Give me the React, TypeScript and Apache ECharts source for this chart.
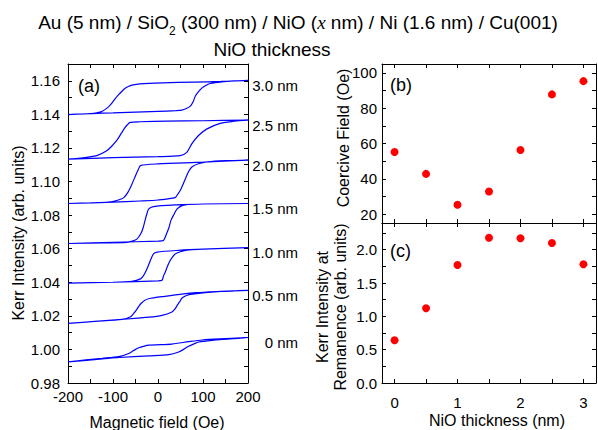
import React, { useEffect, useRef } from "react";
import * as echarts from "echarts";

// ---------- Panel (a): hysteresis loops, [field (Oe), Kerr intensity] ----------
const loop00Down = [[200, 1.0071], [150, 1.0064], [98, 1.0056], [68, 1.0046], [31, 1.0032], [-21, 1.0026], [-33, 1.0018], [-43, 1.001], [-55, 0.9992], [-65, 0.9976], [-87, 0.9957], [-124, 0.9947], [-160, 0.9938], [-200, 0.9926]];
const loop00Up = [[-200, 0.9926], [-124, 0.9943], [-87, 0.9952], [-20, 0.9962], [24, 0.9969], [46, 0.9985], [58, 1.0002], [68, 1.0019], [80, 1.0033], [90, 1.0044], [120, 1.0054], [160, 1.0062], [200, 1.0071]];

const loop05Down = [[200, 1.0352], [140, 1.0346], [83, 1.0338], [9, 1.0314], [-21, 1.0302], [-30, 1.0292], [-36, 1.0278], [-42, 1.026], [-47, 1.0239], [-54, 1.0215], [-61, 1.0195], [-80, 1.0179], [-140, 1.0167], [-200, 1.0155]];
const loop05Up = [[-200, 1.0155], [-140, 1.0167], [-80, 1.0179], [-20, 1.0192], [9, 1.0203], [31, 1.0223], [37, 1.0238], [42, 1.0259], [48, 1.0283], [53, 1.0305], [62, 1.032], [72, 1.0328], [140, 1.0345], [200, 1.0352]];

const loop10Down = [[200, 1.0606], [100, 1.0597], [46, 1.059], [-2, 1.058], [-10, 1.0569], [-17, 1.053], [-22, 1.0495], [-28, 1.046], [-33, 1.0437], [-39, 1.042], [-58, 1.0406], [-100, 1.04], [-200, 1.0395]];
const loop10Up = [[-200, 1.0395], [-100, 1.04], [0, 1.0408], [9, 1.0412], [12, 1.0436], [16, 1.046], [21, 1.0495], [27, 1.053], [33, 1.0553], [38, 1.0569], [50, 1.0582], [61, 1.059], [100, 1.0597], [200, 1.0606]];

const loop15Down = [[200, 1.0869], [100, 1.0866], [41, 1.0861], [-10, 1.0851], [-21, 1.0836], [-25, 1.0805], [-29, 1.0766], [-33, 1.0725], [-38, 1.069], [-47, 1.0657], [-58, 1.0645], [-70, 1.0637], [-120, 1.0634], [-200, 1.0631]];
const loop15Up = [[-200, 1.0631], [-100, 1.0638], [0, 1.0645], [12, 1.0649], [19, 1.0689], [24, 1.0723], [29, 1.077], [35, 1.0802], [42, 1.0835], [50, 1.0852], [60, 1.0861], [100, 1.0866], [200, 1.0869]];

const loop20Down = [[200, 1.1128], [100, 1.1115], [0, 1.1105], [-39, 1.1095], [-44, 1.107], [-50, 1.1035], [-58, 1.0984], [-66, 1.094], [-76, 1.0904], [-92, 1.0887], [-110, 1.0878], [-150, 1.0873], [-200, 1.0869]];
const loop20Up = [[-200, 1.0869], [-100, 1.0877], [-40, 1.0884], [0, 1.089], [38, 1.0904], [44, 1.0925], [50, 1.095], [56, 1.0985], [62, 1.1024], [68, 1.106], [76, 1.1088], [90, 1.1106], [110, 1.1117], [150, 1.1124], [200, 1.1128]];

const loop25Down = [[200, 1.1366], [100, 1.1362], [20, 1.136], [-40, 1.1356], [-62, 1.1352], [-68, 1.1338], [-73, 1.1322], [-82, 1.1285], [-92, 1.1243], [-103, 1.121], [-114, 1.1183], [-136, 1.1154], [-173, 1.1139], [-200, 1.1134]];
const loop25Up = [[-200, 1.1134], [-100, 1.1142], [0, 1.1148], [49, 1.1154], [64, 1.1174], [75, 1.1224], [90, 1.1274], [108, 1.1312], [138, 1.1346], [170, 1.136], [200, 1.1366]];

const loop30Down = [[200, 1.1602], [140, 1.1596], [80, 1.1592], [10, 1.1588], [-40, 1.1582], [-58, 1.1574], [-66, 1.1566], [-73, 1.1556], [-80, 1.1538], [-87, 1.1519], [-95, 1.1494], [-102, 1.1469], [-112, 1.144], [-124, 1.1419], [-136, 1.1409], [-150, 1.1404], [-200, 1.1399]];
const loop30Up = [[-200, 1.1399], [-147, 1.1405], [-100, 1.1409], [0, 1.1418], [40, 1.1422], [53, 1.1425], [63, 1.1435], [72, 1.1449], [78, 1.1475], [83, 1.1509], [90, 1.1535], [98, 1.1558], [107, 1.1573], [116, 1.1584], [142, 1.1594], [170, 1.1599], [200, 1.1602]];

const loopLabels = ["0 nm", "0.5 nm", "1.0 nm", "1.5 nm", "2.0 nm", "2.5 nm", "3.0 nm"];

const fieldTickValues = [-200, -150, -100, -50, 0, 50, 100, 150, 200];
const fieldLabelValues = [-200, -100, 0, 100, 200];
const kerrTickValues = [0.98, 0.99, 1.0, 1.01, 1.02, 1.03, 1.04, 1.05, 1.06, 1.07, 1.08, 1.09, 1.1, 1.11, 1.12, 1.13, 1.14, 1.15, 1.16];
const kerrLabelValues = [0.98, 1.0, 1.02, 1.04, 1.06, 1.08, 1.1, 1.12, 1.14, 1.16];

// ---------- Panels (b) and (c) ----------
const thicknessNm = [0, 0.5, 1, 1.5, 2, 2.5, 3];
const coerciveFieldOe = [55.2, 42.8, 25.3, 32.8, 56.3, 87.8, 95.3];
const remanenceKerr = [0.64, 1.12, 1.77, 2.18, 2.17, 2.1, 1.78];

const thicknessTickValues = [0, 0.5, 1, 1.5, 2, 2.5, 3];
const thicknessLabelValues = [0, 1, 2, 3];
const coerciveTickValues = [20, 30, 40, 50, 60, 70, 80, 90, 100];
const coerciveLabelValues = [20, 40, 60, 80, 100];
const remanenceTickValues = [0, 0.25, 0.5, 0.75, 1, 1.25, 1.5, 1.75, 2, 2.25];
const remanenceLabelValues = [0, 0.5, 1, 1.5, 2];

const FONT = "'Liberation Sans', Arial, Helvetica, sans-serif";
const BLACK = "#000";

function axis(
  gridIndex: number,
  position: string,
  min: number,
  max: number,
  ticks: number[],
  labels: number[] | null,
  formatter: (v: number) => string,
  margin: number
) {
  return {
    type: "value",
    gridIndex,
    position,
    min,
    max,
    axisLine: { show: true, onZero: false, lineStyle: { color: BLACK, width: 1 } },
    axisTick: { show: true, inside: true, length: 4, customValues: ticks, lineStyle: { color: BLACK, width: 1 } },
    minorTick: { show: false },
    splitLine: { show: false },
    axisLabel: labels
      ? { show: true, customValues: labels, formatter, margin, fontSize: 15, fontFamily: FONT, color: BLACK }
      : { show: false },
  };
}

const fmt0 = (v: number) => String(Math.round(v));
const fmt1 = (v: number) => v.toFixed(1);
const fmt2 = (v: number) => v.toFixed(2);

const loops = [
  [loop00Down, loop00Up],
  [loop05Down, loop05Up],
  [loop10Down, loop10Up],
  [loop15Down, loop15Up],
  [loop20Down, loop20Up],
  [loop25Down, loop25Up],
  [loop30Down, loop30Up],
];

function baseOption() {
  const loopSeries = loops.map(([down, up], i) => ({
    type: "line",
    name: loopLabels[i],
    xAxisIndex: 0,
    yAxisIndex: 0,
    data: [...down, ...up],
    showSymbol: false,
    symbol: "none",
    smooth: 0.25,
    lineStyle: { color: "#0000ff", width: 1.2 },
    z: 3,
  }));
  const dot = { color: "#ff0000", opacity: 1 };
  return {
    animation: false,
    backgroundColor: "#fff",
    grid: [
      { left: 68, top: 64, width: 180, height: 319 },
      { left: 382, top: 64, width: 214, height: 159 },
      { left: 382, top: 223, width: 214, height: 160 },
    ],
    xAxis: [
      axis(0, "bottom", -200, 200, fieldTickValues, fieldLabelValues, fmt0, 6),
      axis(0, "top", -200, 200, fieldTickValues, null, fmt0, 6),
      axis(1, "bottom", -0.2, 3.2, thicknessTickValues, null, fmt0, 6),
      axis(1, "top", -0.2, 3.2, thicknessTickValues, null, fmt0, 6),
      axis(2, "bottom", -0.2, 3.2, thicknessTickValues, thicknessLabelValues, fmt0, 12),
      axis(2, "top", -0.2, 3.2, thicknessTickValues, null, fmt0, 6),
    ],
    yAxis: [
      axis(0, "left", 0.98, 1.17, kerrTickValues, kerrLabelValues, fmt2, 8),
      axis(0, "right", 0.98, 1.17, kerrTickValues, null, fmt2, 8),
      axis(1, "left", 15, 105, coerciveTickValues, coerciveLabelValues, fmt0, 5),
      axis(1, "right", 15, 105, coerciveTickValues, null, fmt0, 5),
      axis(2, "left", 0, 2.4, remanenceTickValues, remanenceLabelValues, fmt1, 5),
      axis(2, "right", 0, 2.4, remanenceTickValues, null, fmt1, 5),
    ],
    series: [
      ...loopSeries,
      {
        type: "scatter",
        xAxisIndex: 2,
        yAxisIndex: 2,
        data: thicknessNm.map((t, i) => [t, coerciveFieldOe[i]]),
        symbol: "circle",
        symbolSize: 8,
        itemStyle: dot,
      },
      {
        type: "scatter",
        xAxisIndex: 4,
        yAxisIndex: 4,
        data: thicknessNm.map((t, i) => [t, remanenceKerr[i]]),
        symbol: "circle",
        symbolSize: 8,
        itemStyle: dot,
      },
    ],
  };
}

function txt(
  text: string,
  x: number,
  y: number,
  fontSize: number,
  align: string,
  extra: any = {},
  rotation = 0
) {
  return {
    type: "text",
    x,
    y,
    rotation,
    z: 10,
    style: {
      text,
      fontSize,
      fontFamily: FONT,
      fill: BLACK,
      align,
      verticalAlign: "middle",
      textAlign: align,
      textVerticalAlign: "middle",
      ...extra,
    },
  };
}

export default function App() {
  const ref = useRef<HTMLDivElement>(null);
  useEffect(() => {
    const chart = echarts.init(ref.current!, null, { renderer: "svg" });
    chart.setOption(baseOption() as any);

    const loopLabelEls = loops.map(([, up], i) => {
      const last = up[up.length - 1];
      const p = chart.convertToPixel({ xAxisIndex: 0, yAxisIndex: 0 } as any, last) as number[];
      return txt(loopLabels[i], 298, p[1] + 5, 15, "right");
    });

    const graphic = [
      txt(
        "Au (5 nm) / SiO{sub|2} (300 nm) / NiO ({it|x} nm) / Ni (1.6 nm) / Cu(001)",
        298,
        22,
        19,
        "center",
        {
          lineHeight: 30,
          rich: {
            sub: { fontSize: 12, lineHeight: 12, verticalAlign: "bottom", fontFamily: FONT, fill: BLACK },
            it: { fontSize: 19, lineHeight: 30, fontFamily: "'Liberation Serif', 'Times New Roman', serif", fontStyle: "italic", fill: BLACK },
          },
        }
      ),
      txt("NiO thickness", 272, 49, 19, "center"),
      txt("(a)", 78, 86, 18, "left"),
      txt("(b)", 390, 85, 18, "left"),
      txt("(c)", 390, 251, 18, "left"),
      txt("Kerr Intensity (arb. units)", 18, 233, 16, "center", {}, Math.PI / 2),
      txt("Magnetic field (Oe)", 157, 422, 16, "center"),
      txt("Coercive Field (Oe)", 343, 138, 16, "center", {}, Math.PI / 2),
      txt("Kerr Intensity at\nRemanence (arb. units)", 331, 307, 16, "center", { lineHeight: 18 }, Math.PI / 2),
      txt("NiO thickness (nm)", 497, 420, 16, "center"),
      ...loopLabelEls,
    ];
    chart.setOption({ graphic } as any);
    return () => chart.dispose();
  }, []);
  return <div ref={ref} style={{ position: "absolute", left: 0, top: 0, width: 598, height: 430 }} />;
}
